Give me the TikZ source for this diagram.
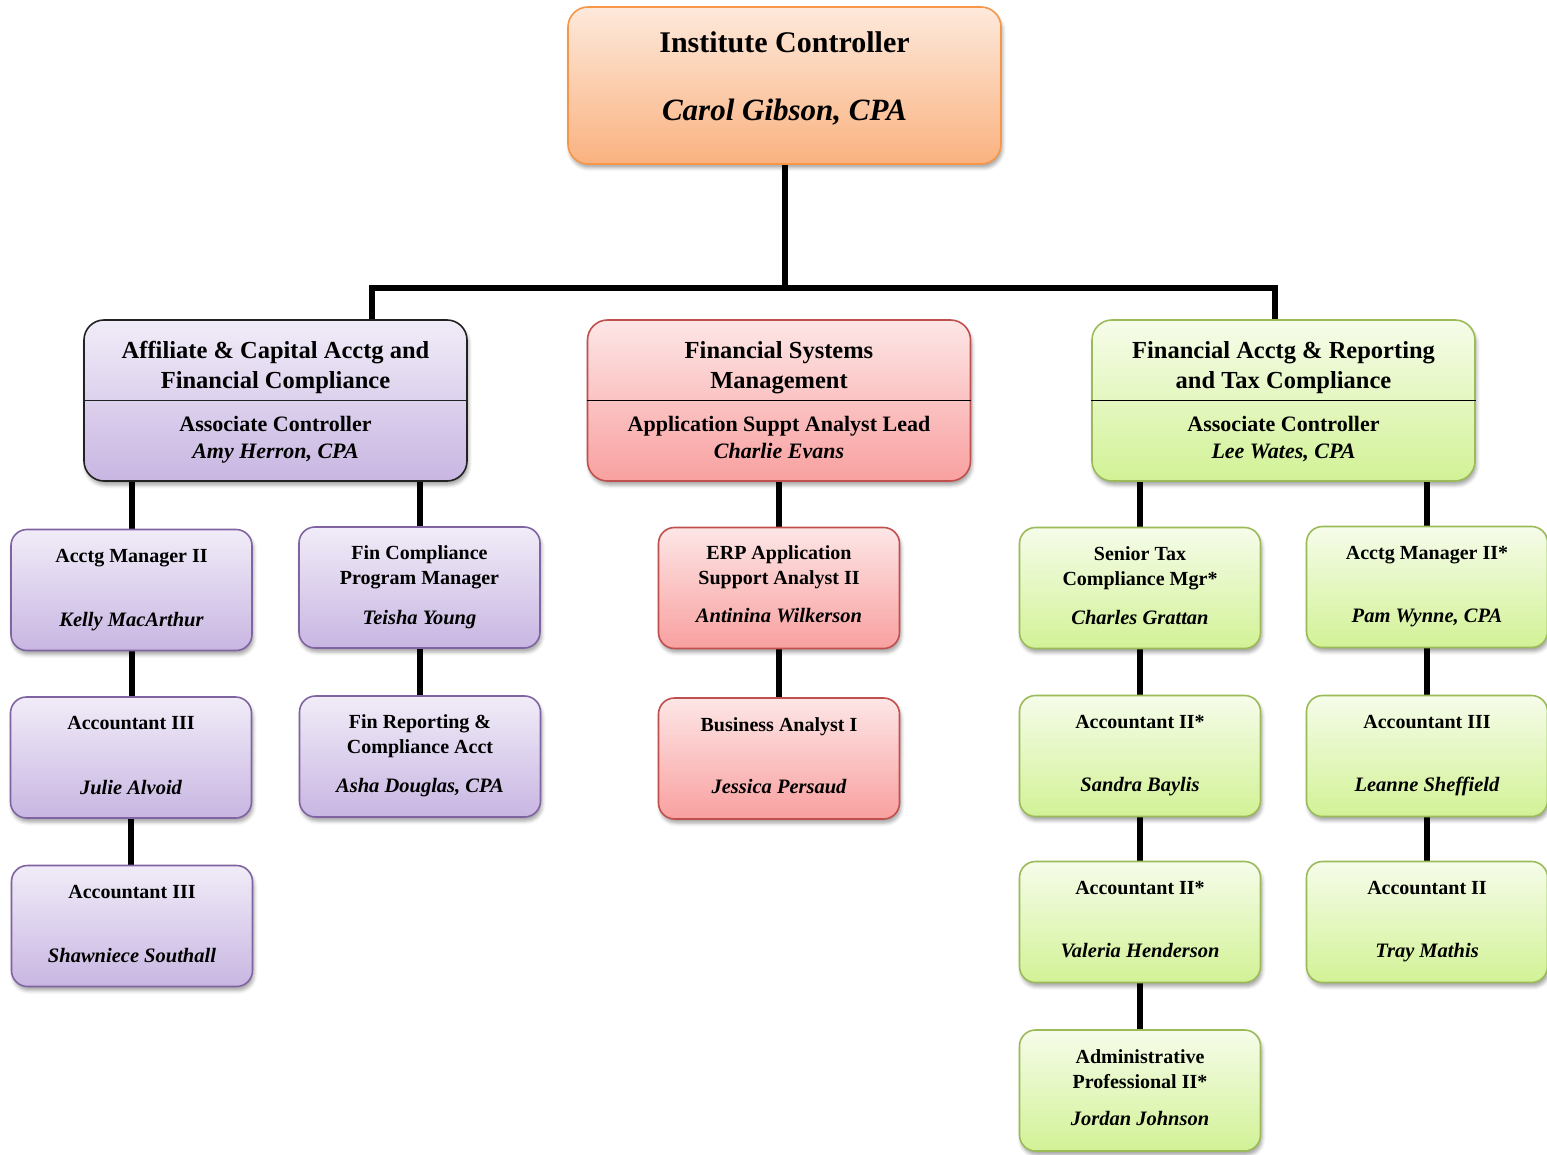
\documentclass[tikz,border=0pt]{standalone}
\usepackage{fontspec}
\setmainfont{Liberation Serif}
\usepackage{xcolor}
\usetikzlibrary{positioning, shadows.blur}

\begin{document}
\begin{tikzpicture}
        [ x=1pt, y=-1pt
        , node distance=5pt
        , box/.style={rounded corners=16pt, line width=1.6pt, minimum width=241pt, minimum height=121pt,
                      blur shadow={shadow xshift=1.5pt, shadow yshift=-4pt, shadow blur radius=3.5pt, shadow opacity=35}}
        , headbox/.style={box, minimum width=383pt, minimum height=161pt, rounded corners=20pt}
        , topbox/.style={box, minimum width=433pt, minimum height=157pt, rounded corners=20pt}
        , obox/.style={draw=orangeline, top color=orangetop, bottom color=orangebot}
        , pbox/.style={draw=purpleline, top color=purpletop, bottom color=purplebot}
        , rbox/.style={draw=redline, top color=redtop, bottom color=redbot}
        , gbox/.style={draw=greenline, top color=greentop, bottom color=greenbot}
        , ttl/.style={inner sep=0pt, align=center, font=\fontsize{20}{25}\selectfont\bfseries}
        , nm/.style={inner sep=0pt, font=\fontsize{20.5}{24}\selectfont\bfseries\itshape, text height=14pt, text depth=5pt}
        , hd/.style={inner sep=0pt, align=center, font=\fontsize{24.5}{30}\selectfont\bfseries}
        , sub/.style={inner sep=0pt, align=center, font=\fontsize{22}{27}\selectfont\bfseries}
        , conn/.style={line width=6pt, draw=black}
        ]
        \pgfdeclarelayer{background}
        \pgfsetlayers{background,main}
        \definecolor{orangeline}{RGB}{247,150,70}
        \definecolor{orangetop}{RGB}{253,233,219}
        \definecolor{orangebot}{RGB}{250,178,128}
        \definecolor{purpleline}{RGB}{128,100,162}
        \definecolor{purpletop}{RGB}{241,236,248}
        \definecolor{purplebot}{RGB}{200,182,226}
        \definecolor{redline}{RGB}{192,80,77}
        \definecolor{redtop}{RGB}{253,230,230}
        \definecolor{redbot}{RGB}{249,160,160}
        \definecolor{greenline}{RGB}{155,187,89}
        \definecolor{greentop}{RGB}{246,252,234}
        \definecolor{greenbot}{RGB}{210,242,150}
        \definecolor{darkline}{RGB}{34,34,34}

        \useasboundingbox (0,0) rectangle (1547,1155);

        % top
        \node (top) [topbox, obox] at (784.5,85.5) {};
            \node (topt) [hd, font=\fontsize{30}{36}\selectfont\bfseries, below=25pt of top.north] {Institute Controller};
            \node (topn) [nm, font=\fontsize{31}{36}\selectfont\bfseries\itshape, text height=21pt, text depth=7pt] at ([yshift=-28pt]top.center) {Carol Gibson, CPA};

        % level two
        \node (aff) [headbox, pbox, draw=darkline] at (275.5,400.5) {};
            \node (afft) [hd, below=22pt of aff.north] {Affiliate \& Capital Acctg and\\Financial Compliance};
            \node (affs) [sub, below=16pt of aff.center] {Associate Controller\\\textit{Amy Herron, CPA}};
            \draw[darkline, line width=1.6pt] (aff.west) -- (aff.east);
        \node (fsm) [headbox, rbox] at (779,400.5) {};
            \node (fsmt) [hd, below=22pt of fsm.north] {Financial Systems\\Management};
            \node (fsms) [sub, below=16pt of fsm.center] {Application Suppt Analyst Lead\\\textit{Charlie Evans}};
            \draw[black, line width=1.6pt] (fsm.west) -- (fsm.east);
        \node (far) [headbox, gbox] at (1283.5,400.5) {};
            \node (fart) [hd, below=22pt of far.north] {Financial Acctg \& Reporting\\and Tax Compliance};
            \node (fars) [sub, below=16pt of far.center] {Associate Controller\\\textit{Lee Wates, CPA}};
            \draw[black, line width=1.6pt] (far.west) -- (far.east);

        % affiliate staff
        \node (a1) [box, pbox] at (131.5,590) {};
            \node (a1t) [ttl, below=20pt of a1.north] {Acctg Manager II};
            \node (a1n) [nm] at ([yshift=29pt]a1.south) {Kelly MacArthur};
        \node (a2) [box, pbox] at (131,757.5) {};
            \node (a2t) [ttl, below=20pt of a2.north] {Accountant III};
            \node (a2n) [nm] at ([yshift=29pt]a2.south) {Julie Alvoid};
        \node (a3) [box, pbox] at (132,926) {};
            \node (a3t) [ttl, below=20pt of a3.north] {Accountant III};
            \node (a3n) [nm] at ([yshift=29pt]a3.south) {Shawniece Southall};
        \node (b1) [box, pbox] at (419.5,587.5) {};
            \node (b1t) [ttl, below=19pt of b1.north] {Fin Compliance\\Program Manager};
            \node (b1n) [nm] at ([yshift=29pt]b1.south) {Teisha Young};
        \node (b2) [box, pbox] at (420,756.5) {};
            \node (b2t) [ttl, below=19pt of b2.north] {Fin Reporting \&\\Compliance Acct};
            \node (b2n) [nm] at ([yshift=30pt]b2.south) {Asha Douglas, CPA};

        % systems staff
        \node (r1) [box, rbox] at (779,588) {};
            \node (r1t) [ttl, below=19pt of r1.north] {ERP Application\\Support Analyst II};
            \node (r1n) [nm] at ([yshift=31pt]r1.south) {Antinina Wilkerson};
        \node (r2) [box, rbox] at (779,758.5) {};
            \node (r2t) [ttl, below=20pt of r2.north] {Business Analyst I};
            \node (r2n) [nm] at ([yshift=31pt]r2.south) {Jessica Persaud};

        % reporting staff
        \node (g1) [box, gbox] at (1140,588) {};
            \node (g1t) [ttl, below=20pt of g1.north] {Senior Tax\\Compliance Mgr*};
            \node (g1n) [nm] at ([yshift=29pt]g1.south) {Charles Grattan};
        \node (g2) [box, gbox] at (1140,756) {};
            \node (g2t) [ttl, below=20pt of g2.north] {Accountant II*};
            \node (g2n) [nm] at ([yshift=30pt]g2.south) {Sandra Baylis};
        \node (g3) [box, gbox] at (1140,922) {};
            \node (g3t) [ttl, below=20pt of g3.north] {Accountant II*};
            \node (g3n) [nm] at ([yshift=30pt]g3.south) {Valeria Henderson};
        \node (g4) [box, gbox] at (1140,1090.5) {};
            \node (g4t) [ttl, below=20pt of g4.north] {Administrative\\Professional II*};
            \node (g4n) [nm] at ([yshift=31pt]g4.south) {Jordan Johnson};
        \node (h1) [box, gbox] at (1427,587) {};
            \node (h1t) [ttl, below=20pt of h1.north] {Acctg Manager II*};
            \node (h1n) [nm] at ([yshift=30pt]h1.south) {Pam Wynne, CPA};
        \node (h2) [box, gbox] at (1427,756) {};
            \node (h2t) [ttl, below=20pt of h2.north] {Accountant III};
            \node (h2n) [nm] at ([yshift=30pt]h2.south) {Leanne Sheffield};
        \node (h3) [box, gbox] at (1427,922) {};
            \node (h3t) [ttl, below=20pt of h3.north] {Accountant II};
            \node (h3n) [nm] at ([yshift=30pt]h3.south) {Tray Mathis};

        \begin{pgfonlayer}{background}
            \coordinate (barm) at (784.5,288);
            \coordinate (barl) at (372,288);
            \coordinate (barr) at (1275,288);
            \draw[conn] (top.south) -- (barm);
            \draw[conn] (aff.north -| barl) -- (barl) -- (barr) -- (barr |- far.north);

            \draw[conn] (aff.south -| a1.north) -- (a1.north);
            \draw[conn] (a1.south) -- (a1.south |- a2.north);
            \draw[conn] (a2.south) -- (a2.south |- a3.north);
            \draw[conn] (aff.south -| b1.north) -- (b1.north);
            \draw[conn] (b1.south) -- (b1.south |- b2.north);

            \draw[conn] (fsm.south) -- (r1.north);
            \draw[conn] (r1) -- (r2);

            \draw[conn] (far.south -| g1.north) -- (g1.north);
            \draw[conn] (g1) -- (g2);
            \draw[conn] (g2) -- (g3);
            \draw[conn] (g3) -- (g4);
            \draw[conn] (far.south -| h1.north) -- (h1.north);
            \draw[conn] (h1) -- (h2);
            \draw[conn] (h2) -- (h3);
        \end{pgfonlayer}

    \end{tikzpicture}
\end{document}
